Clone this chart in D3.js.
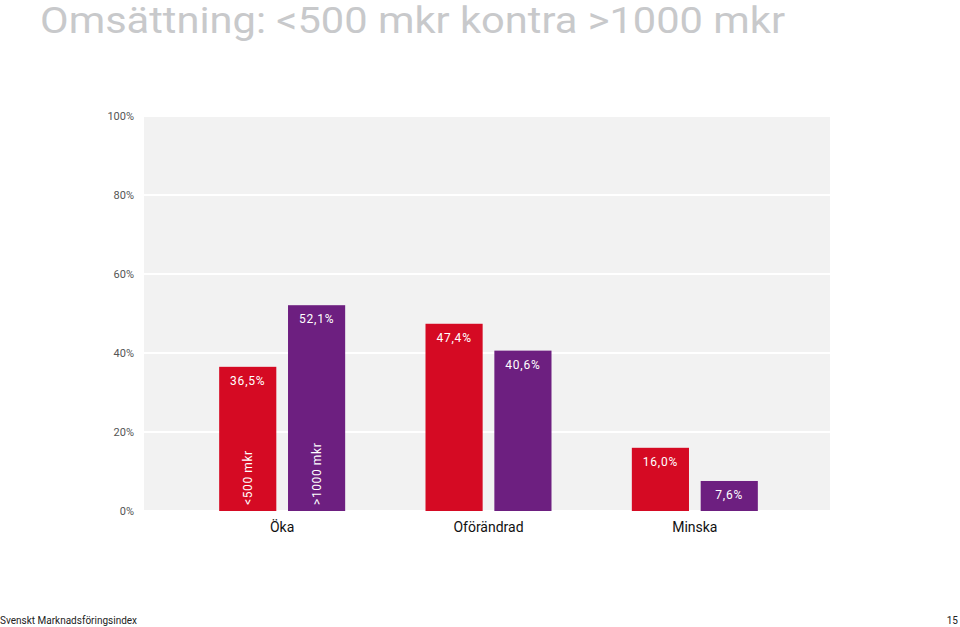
<!DOCTYPE html>
<html><head><meta charset="utf-8">
<script src="https://cdn.jsdelivr.net/npm/d3@7"></script>
<style>body{margin:0;background:#fff}text{font-family:Roboto,"DejaVu Sans",sans-serif}</style>
</head><body><svg id="c" width="960" height="627"></svg>
<script>
var categories = ['Öka', 'Oförändrad', 'Minska']
var series = ['<500 mkr', '>1000 mkr']
var colors = ['#d50a23', '#6d1f80']
var small = [36.5, 47.4, 16.0]
var large = [52.1, 40.6, 7.6]
var ticks = [0, 20, 40, 60, 80, 100]

var svg = d3.select('#c')
var fmt = (v) => v.toFixed(1).replace('.', ',') + '%'

svg.append('text').attr('x', 40).attr('y', 33).attr('font-size', 36)
  .attr('textLength', 745).attr('lengthAdjust', 'spacingAndGlyphs')
  .attr('fill', '#c8c9cb').text('Omsättning: <500 mkr kontra >1000 mkr')

var y = d3.scaleLinear().domain([0, 100]).range([511, 116])
var x = d3.scaleBand().domain(categories).range([179, 798])
var xs = d3.scaleBand().domain(series).range([-63, 63]).paddingInner(0.17)

svg.append('rect').attr('x', 144).attr('y', 116).attr('width', 686).attr('height', 395).attr('fill', '#f2f2f2')
svg.selectAll('.grid').data(ticks).enter().append('line')
  .attr('x1', 144).attr('x2', 830).attr('y1', (d) => y(d)).attr('y2', (d) => y(d))
  .attr('stroke', '#fff').attr('stroke-width', 2)
svg.selectAll('.tick').data(ticks).enter().append('text')
  .attr('x', 134).attr('y', (d) => y(d) + 4).attr('text-anchor', 'end')
  .attr('font-size', 11).attr('fill', '#555').text((d) => d + '%')

var data = []
categories.forEach((c, i) => {
  data.push({ c, s: series[0], v: small[i], col: colors[0], first: i === 0 })
  data.push({ c, s: series[1], v: large[i], col: colors[1], first: i === 0 })
})

var g = svg.selectAll('.bar').data(data).enter().append('g')
  .attr('transform', (d) => 'translate(' + (x(d.c) + x.bandwidth() / 2 + xs(d.s)) + ',0)')
g.append('rect').attr('x', 0).attr('width', xs.bandwidth())
  .attr('y', (d) => y(d.v)).attr('height', (d) => y(0) - y(d.v)).attr('fill', (d) => d.col)
g.append('text').attr('x', xs.bandwidth() / 2).attr('y', (d) => y(d.v) + 18)
  .attr('text-anchor', 'middle').attr('font-size', 12).attr('fill', '#fff')
  .attr('letter-spacing', 0.8).text((d) => fmt(d.v))
g.filter((d) => d.first).append('text')
  .attr('transform', 'translate(' + (xs.bandwidth() / 2 + 4) + ',505) rotate(-90)')
  .attr('font-size', 12).attr('fill', '#fff').attr('letter-spacing', 0.6).text((d) => d.s)

svg.selectAll('.cat').data(categories).enter().append('text')
  .attr('x', (d) => x(d) + x.bandwidth() / 2).attr('y', 532).attr('text-anchor', 'middle')
  .attr('font-size', 14).attr('fill', '#111').text((d) => d)

svg.append('text').attr('x', 0).attr('y', 624).attr('font-size', 10).attr('fill', '#222').text('Svenskt Marknadsföringsindex')
svg.append('text').attr('x', 958).attr('y', 624).attr('text-anchor', 'end').attr('font-size', 10).attr('fill', '#222').text('15')
</script></body></html>
